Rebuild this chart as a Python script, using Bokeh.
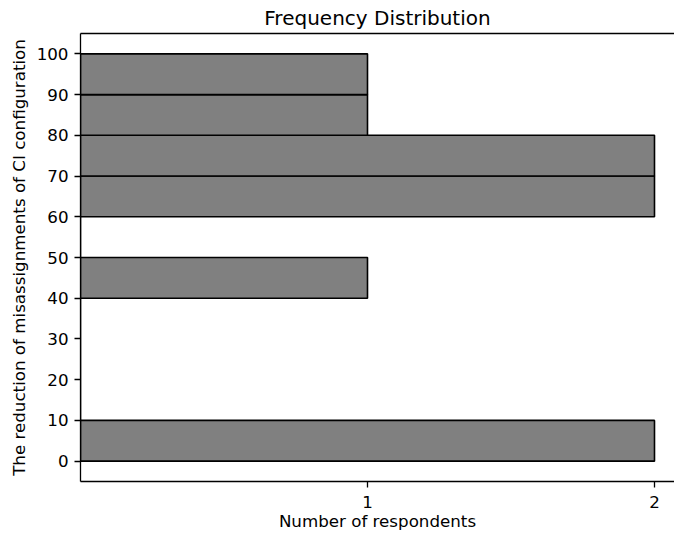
from bokeh.plotting import figure
from bokeh.models import Range1d, FixedTicker, LinearAxis, ColumnDataSource
from bokeh.embed import file_html
from bokeh.resources import INLINE

# Data
bin_edges = [0, 10, 20, 30, 40, 50, 60, 70, 80, 90, 100]
counts = [2, 0, 0, 0, 1, 0, 2, 2, 1, 1]
y_ticks = [0, 10, 20, 30, 40, 50, 60, 70, 80, 90, 100]
x_ticks = [1, 2]

title_text = "Frequency Distribution"
x_label = "Number of respondents"
y_label = "The reduction of misassignments of CI configuration"

bottoms = bin_edges[:-1]
tops = bin_edges[1:]
src = ColumnDataSource(dict(
    y=[(b + t) / 2 for b, t in zip(bottoms, tops)],
    h=[t - b for b, t in zip(bottoms, tops)],
    right=counts,
))

FONT = "DejaVu Sans"

p = figure(width=674, height=533, output_backend="svg", toolbar_location=None,
           x_range=Range1d(0, 2.0697), y_range=Range1d(-5, 105),
           min_border_left=80, min_border_right=0, min_border_top=33,
           min_border_bottom=52)

p.hbar(y="y", height="h", left=0, right="right", source=src,
       fill_color="#808080", line_color="black", line_width=1.6)

p.title.text = title_text
p.title.align = "center"
p.title.text_font = FONT
p.title.text_font_size = "20px"
p.title.text_font_style = "normal"
p.title.text_color = "black"
p.title.standoff = 7

p.grid.visible = False
p.outline_line_color = None
p.background_fill_color = "white"
p.border_fill_color = "white"

for ax in (p.xaxis[0], p.yaxis[0]):
    ax.axis_line_color = "black"
    ax.axis_line_width = 1.3
    ax.major_tick_line_color = "black"
    ax.major_tick_line_width = 1.3
    ax.major_tick_out = 6
    ax.major_tick_in = 0
    ax.minor_tick_line_color = None
    ax.major_label_text_font = FONT
    ax.major_label_text_font_size = "16.7px"
    ax.major_label_text_color = "black"
    ax.axis_label_text_font = FONT
    ax.axis_label_text_font_size = "16.7px"
    ax.axis_label_text_font_style = "normal"
    ax.axis_label_text_color = "black"

p.xaxis[0].ticker = FixedTicker(ticks=x_ticks)
p.yaxis[0].ticker = FixedTicker(ticks=y_ticks)
p.xaxis[0].axis_label = x_label
p.yaxis[0].axis_label = y_label
p.xaxis[0].major_label_standoff = 8
p.xaxis[0].axis_label_standoff = 0
p.yaxis[0].major_label_standoff = 6
p.yaxis[0].axis_label_standoff = 5

top_axis = LinearAxis(ticker=FixedTicker(ticks=[]), major_tick_out=0, major_tick_in=0,
                      minor_tick_line_color=None, major_label_text_font_size="0px",
                      major_label_standoff=0, axis_label_standoff=0,
                      axis_line_color="black", axis_line_width=1.3)
p.add_layout(top_axis, "above")

open("out.html", "w").write(file_html(p, INLINE))
